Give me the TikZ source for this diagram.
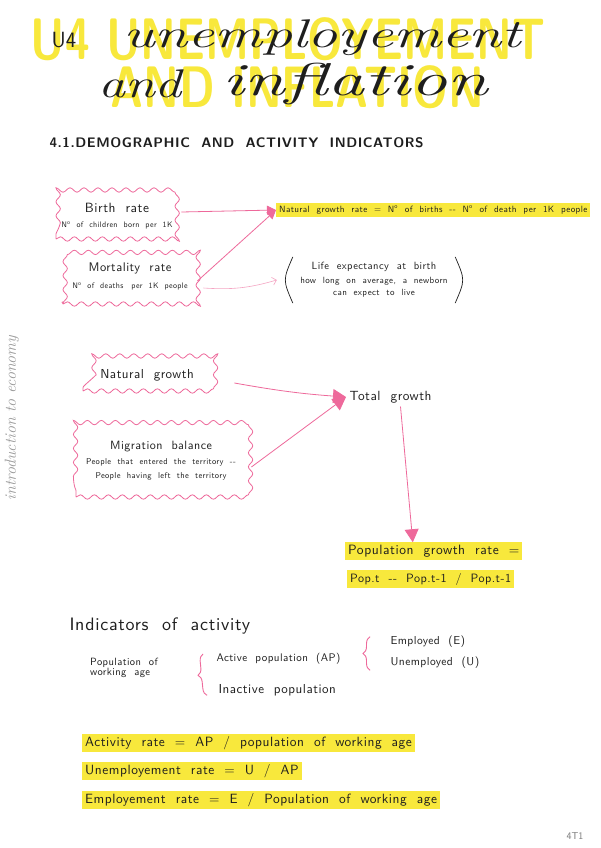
\documentclass[tikz,border=0pt]{standalone}
\usepackage{fontspec}
\usepackage{graphicx}
\usetikzlibrary{arrows.meta,calc,decorations.pathmorphing,decorations.pathreplacing}
\definecolor{hilite}{RGB}{248,232,60}
\definecolor{marker}{RGB}{238,105,155}
\definecolor{ink}{RGB}{30,30,30}
\newfontfamily\hand{lmsans10-regular.otf}[BoldFont=lmsans10-bold.otf,LetterSpace=4,WordSpace=2]
\newcommand{\fs}[1]{\fontsize{#1}{#1}\selectfont}
\tikzset{
  notes/.style={x=1pt,y=-1pt,font=\hand,text=ink},
  titleblk/.style={font=\sffamily\bfseries\fs{45},text=hilite,inner sep=0pt},
  script/.style={font=\itshape\fs{40},text=ink,inner sep=0pt},
  sect/.style={font=\hand\bfseries\fs{13.8},anchor=west},
  wavy/.style={draw=marker,line width=0.8pt,decorate,
               decoration={snake,segment length=14pt,amplitude=2.2pt},
               align=center,minimum width=#1},
  hl/.style={fill=hilite,inner xsep=3pt,inner ysep=2.5pt,anchor=west},
  ar/.style={-{Triangle[length=9pt,width=9pt]},draw=marker,line width=0.8pt},
  bigar/.style={-{Triangle[length=13pt,width=14pt]},draw=marker,line width=0.8pt},
  thinar/.style={-{Straight Barb[length=4pt]},draw=marker!60,line width=0.6pt},
  brc/.style={draw=marker,line width=0.9pt,decorate,decoration={brace,amplitude=7pt}},
  rate/.style={hl,font=\hand\fs{13.4}},
}
\begin{document}
\begin{tikzpicture}[notes]
  \useasboundingbox[fill=white] (0,0) rectangle (600,848);
  % title
  \node[titleblk] (ttop) at (288,39) {\scalebox{1}[1.3]{U4 UNEMPLOYEMENT}};
  \node[titleblk] (tbot) at (297,87) {\scalebox{1}[1.3]{AND INFLATION}};
  \node[font=\sffamily\fs{22},inner sep=0pt] (tu) at (64,40) {U4};
  \node[script] (tun) at (322,38) {\scalebox{1.5}[1]{unemployement}};
  \node[script] (tand) at (140,84) {\scalebox{1.35}[1]{and}};
  \node[script,font=\itshape\fs{46}] (tinf) at (355,84) {\scalebox{1.6}[1]{inflation}};
  \node[sect] (sec) at (46,143) {4.1.DEMOGRAPHIC AND ACTIVITY INDICATORS};
  % demographic indicators
  \node[wavy=122pt,minimum height=46pt] (birth) at (117,216)
    {\fs{13.4}Birth rate\\[3pt]\fs{8}N\textsuperscript{o} of children born per 1K};
  \node[wavy=134pt,minimum height=56pt] (mort) at (130,276)
    {\fs{12.5}Mortality rate\\[5pt]\fs{8}N\textsuperscript{o} of deaths\quad per 1K people};
  \node[hl,font=\hand\fs{9.1}] (natrate) at (276,210)
    {Natural growth rate = N\textsuperscript{o} of births -- N\textsuperscript{o} of death per 1K people};
  \node[align=center,font=\hand\fs{9}] (life) at (374,280)
    {{\fs{10.5}Life expectancy at birth}\\[5pt]how long on average, a newborn\\[3pt]can expect to live};
  \draw[ink,line width=0.7pt] ([xshift=-4pt,yshift=2pt]life.north west) .. controls ([xshift=-14pt]life.west) .. ([xshift=-4pt,yshift=-2pt]life.south west);
  \draw[ink,line width=0.7pt] ([xshift=4pt,yshift=2pt]life.north east) .. controls ([xshift=14pt]life.east) .. ([xshift=4pt,yshift=-2pt]life.south east);
  \draw[ar] ([xshift=3pt,yshift=4pt]birth.east) -- (natrate.west);
  \draw[ar] ([yshift=-5pt]mort.east) -- (natrate.west);
  \draw[thinar] ([xshift=6pt,yshift=-12pt]mort.east) to[bend right=10] ([xshift=-20pt]life.west);
  % growth
  \node[wavy=128pt,font=\hand\fs{13},minimum height=32pt] (natg) at (147,375) {Natural growth};
  \node[wavy=170pt,minimum height=72pt] (migr) at (161,461)
    {\fs{12}Migration balance\\[3pt]\fs{8.5}People that entered the territory --\\[2pt]\fs{8.5}People having left the territory};
  \node[font=\hand\fs{13.3},anchor=west] (total) at (346,397) {Total growth};
  \draw[bigar] ([xshift=23pt,yshift=-8pt]natg.east) to[bend right=3] (total.west);
  \draw[bigar] ([xshift=5pt,yshift=-6pt]migr.east) -- (total.west);
  \node[hl,font=\hand\fs{13.5}] (popgr) at (345,551) {Population growth rate =};
  \node[hl,font=\hand\fs{12.1}] (popf) at (347,579) {Pop.t -- Pop.t-1 / Pop.t-1};
  \draw[bigar] ([xshift=10pt]total.south) -- ([xshift=-21pt]popgr.north);
  % activity
  \node[font=\hand\fs{18},anchor=west] (ind) at (66,626) {Indicators of activity};
  \node[font=\hand\fs{10.5},align=left] (pwa) at (124,668) {Population of\\working age};
  \node[font=\hand\fs{11},anchor=west] (act) at (213,659) {Active population (AP)};
  \node[font=\hand\fs{13},anchor=west] (inact) at (215,690) {Inactive population};
  \draw[brc] ([xshift=-8pt,yshift=4pt]inact.south west) -- ([xshift=-10pt,yshift=-4pt]act.north west);
  \node[font=\hand\fs{11.5},anchor=west] (emp) at (387,642) {Employed (E)};
  \node[font=\hand\fs{11.5},anchor=west] (unemp) at (387,663) {Unemployed (U)};
  \draw[brc] ([xshift=-17pt,yshift=2pt]unemp.south west) -- ([xshift=-17pt,yshift=-4pt]emp.north west);
  \node[rate] (ra) at (82,743) {Activity rate = AP / population of working age};
  \node[rate] (ru) at (82,771) {Unemployement rate = U / AP};
  \node[rate] (re) at (82,800) {Employement rate = E / Population of working age};
  % margin
  \node[font=\itshape\fs{16},text=ink!45,rotate=90] (margin) at (12,418) {introduction to economy};
  \node[font=\sffamily\fs{10},text=ink!60] (pg) at (575,836) {4T1};
\end{tikzpicture}
\end{document}
